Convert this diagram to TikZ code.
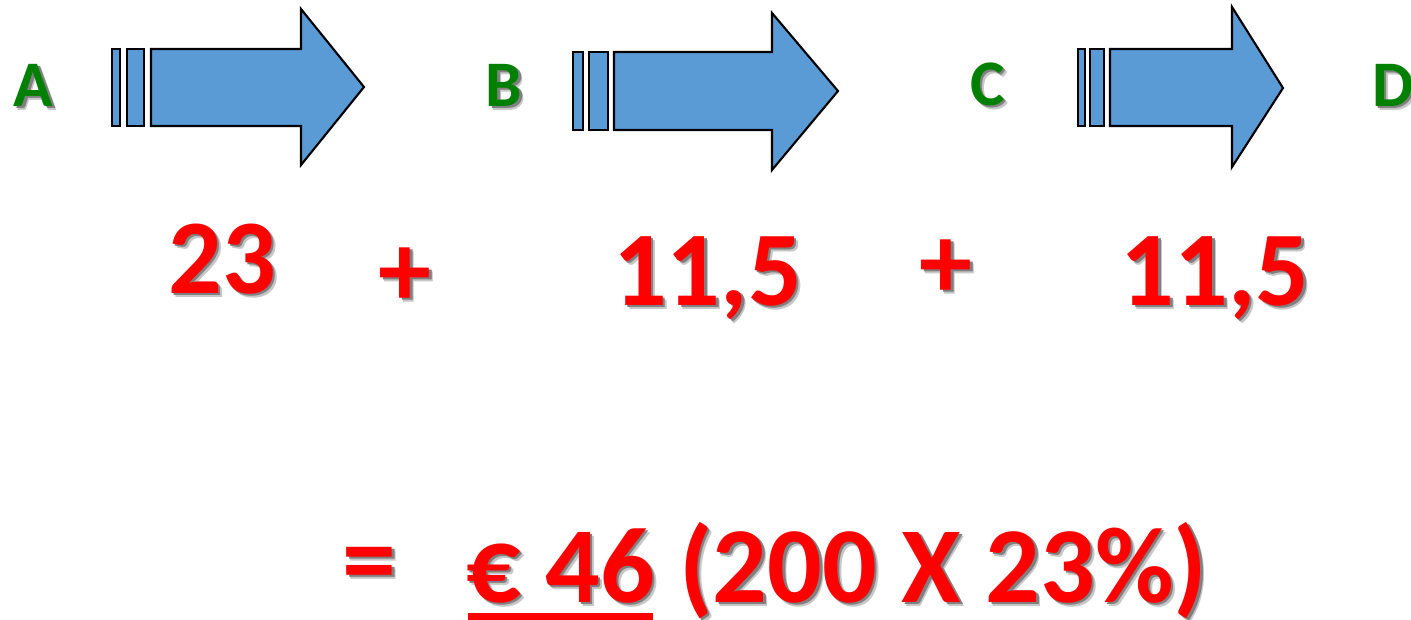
\documentclass[tikz,border=0pt]{standalone}
\usepackage{fontspec}
\setmainfont{Carlito}
\usetikzlibrary{calc}
\definecolor{arrowblue}{HTML}{5B9BD5}
\definecolor{lettergreen}{HTML}{008000}
\definecolor{numred}{HTML}{FF0000}
\definecolor{shadowa}{gray}{0.78}
\definecolor{shadowb}{gray}{0.50}
\newcommand{\shtext}[2]{%
  \rlap{\smash{\hspace{4pt}\raisebox{-4pt}{\color{shadowa}#2}}}%
  \rlap{\smash{\hspace{2.5pt}\raisebox{-2.5pt}{\color{shadowb}#2}}}%
  \textcolor{#1}{#2}}
\newcommand{\mkarrow}[9]{%
  \draw[arrowshape] (#1,#7) rectangle (#2,#8);
  \draw[arrowshape] (#3,#7) rectangle (#4,#8);
  \mkhead{#5}{#6}{#7}{#8}#9}
\newcommand{\mkhead}[8]{%
  \draw[arrowshape] (#1,#3) -- (#2,#3) -- (#2,#5) -- (#7,#8) -- (#2,#6) -- (#2,#4) -- (#1,#4) -- cycle;}
\begin{document}
\begin{tikzpicture}[x=1pt,y=-1pt,
  arrowshape/.style={draw=black,line width=2.1pt,fill=arrowblue,line join=miter},
  letter/.style={inner sep=0pt,font=\fontsize{65}{65}\selectfont\bfseries},
  bignum/.style={inner sep=0pt,font=\fontsize{106}{106}\selectfont\bfseries},
  totaltext/.style={inner sep=0pt,font=\fontsize{108}{108}\selectfont\bfseries}]
\useasboundingbox (0,0) rectangle (1411,619);
\fill[white] (0,0) rectangle (1411,619);

% arrows
\mkarrow{112}{120}{127}{144}{151}{301}{49}{126}{{9}{165}{364}{87}}
\mkarrow{573}{583}{589}{608}{614}{772}{52}{130}{{13}{170}{838}{91}}
\mkarrow{1078}{1085}{1090}{1104}{1110}{1232}{49}{126}{{7}{167}{1283}{88}}

% letters
\node[letter,anchor=base] (lA) at (33.5,106) {\shtext{lettergreen}{A}};
\node[letter,anchor=base] (lB) at (504,106) {\shtext{lettergreen}{B}};
\node[letter,anchor=base] (lC) at (987.5,105) {\shtext{lettergreen}{C}};
\node[letter,anchor=base west] (lD) at (1372,106) {\shtext{lettergreen}{D}};

% numbers
\node[bignum,anchor=base] (n1) at (222,293) {\shtext{numred}{23}};
\node[bignum,anchor=center] (p1) at (405,277) {\shtext{numred}{+}};
\node[bignum,anchor=base] (n2) at (707.5,305) {\shtext{numred}{11,5}};
\node[bignum,anchor=center] (p2) at (946,269) {\shtext{numred}{+}};
\node[bignum,anchor=base] (n3) at (1215,305) {\shtext{numred}{11,5}};

% total
\node[totaltext,anchor=center] (eq) at (369.5,571) {\shtext{numred}{=}};
\node[totaltext,anchor=base west] (e46) at (466,602) {\shtext{numred}{€ 46}};
\node[totaltext,anchor=base west] (calc) at ($(e46.base east)+(24,0)$) {\shtext{numred}{(200 X 23\%)}};
\fill[numred] ($(e46.base west)+(2,11)$) rectangle ($(e46.base east)+(-2,19)$);
\end{tikzpicture}
\end{document}
